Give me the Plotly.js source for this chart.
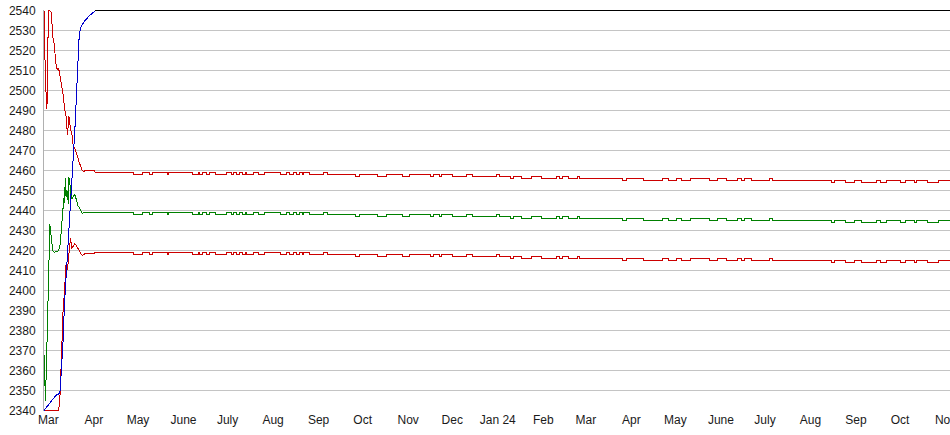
<!DOCTYPE html>
<html>
<head>
<meta charset="utf-8">
<script src="https://cdn.plot.ly/plotly-3.0.1.min.js"></script>
<style>
html,body{margin:0;padding:0;background:#fff;}
#chart{width:950px;height:435px;}
#chart .scatterlayer path.js-line{shape-rendering:crispEdges;}
</style>
</head>
<body>
<div id="chart"></div>
<script>
// ---- tick labels ----
const tickDates = ["2023-03-01","2023-04-01","2023-05-01","2023-06-01","2023-07-01","2023-08-01","2023-09-01","2023-10-01","2023-11-01","2023-12-01","2024-01-01","2024-02-01","2024-03-01","2024-04-01","2024-05-01","2024-06-01","2024-07-01","2024-08-01","2024-09-01","2024-10-01","2024-11-01"];
const tickLabels = ["Mar","Apr","May","June","July","Aug","Sep","Oct","Nov","Dec","Jan 24","Feb","Mar","Apr","May","June","July","Aug","Sep","Oct","Nov"];

// ---- early (settling) period, daily ----
const earlyDates = ["2023-02-26","2023-02-27","2023-02-28","2023-03-01","2023-03-02","2023-03-03","2023-03-04","2023-03-05","2023-03-06","2023-03-07","2023-03-08","2023-03-09","2023-03-10","2023-03-11","2023-03-12","2023-03-13","2023-03-14","2023-03-15","2023-03-16","2023-03-17","2023-03-18","2023-03-19","2023-03-20","2023-03-21","2023-03-22","2023-03-23","2023-03-24","2023-03-25","2023-03-26","2023-03-27","2023-03-28","2023-03-29","2023-03-30","2023-03-31","2023-04-01"];
const upperEarly = [2540,2504,2491,2540,2540,2539,2527,2523,2514,2510.5,2511,2507,2501,2498,2491,2487,2478,2487,2481,2478,2472,2471,2469,2466,2464,2462,2460,2459.5,2460,2460,2460,2460,2460,2460,2460];
const blueEarly = [2340,2341,2342,2343,2344,2345,2346,2347,2347.5,2348,2348,2350,2361,2375,2394,2406,2418,2433,2440,2455,2469,2480,2496,2514,2528,2531.5,2533,2534,2535,2536,2537,2537.5,2538,2538.7,2539.5];
const lowerEarly = [2340,2340,2340,2340,2340,2340,2340,2340,2340,2340,2340,2348.5,2371,2390,2400,2413,2410.5,2418,2426,2421,2422,2423.5,2422.5,2421.5,2420,2418.5,2417.5,2418,2418.5,2418.5,2418.5,2418.5,2418.5,2418.5,2418.5];

const greenEarlyDates = ["2023-02-26","2023-02-27","2023-02-28","2023-03-01","2023-03-02","2023-03-03","2023-03-04","2023-03-05","2023-03-06","2023-03-07","2023-03-08","2023-03-09","2023-03-10","2023-03-10 12:00","2023-03-11","2023-03-11 12:00","2023-03-12","2023-03-12 12:00","2023-03-13","2023-03-13 12:00","2023-03-14","2023-03-14 12:00","2023-03-15","2023-03-15 12:00","2023-03-16","2023-03-16 12:00","2023-03-17","2023-03-18","2023-03-19","2023-03-20","2023-03-21","2023-03-22","2023-03-23","2023-03-24","2023-03-25"];
const greenEarly = [2368,2345,2373,2413,2433,2426,2420,2419,2419.5,2419.5,2420,2423,2432,2439,2444,2446,2444,2456,2447,2450,2449,2443.5,2456.5,2455,2450,2446.5,2446,2447,2448,2445.5,2442.5,2441.5,2440,2438.5,2439];

// ---- steady period, change points ----
const steadyDates = ["2023-04-02","2023-04-28","2023-05-04","2023-05-09","2023-05-11","2023-05-21","2023-05-22","2023-06-07","2023-06-11","2023-06-12",
"2023-06-14","2023-06-17","2023-06-19","2023-06-23","2023-06-30","2023-07-04","2023-07-05","2023-07-07","2023-07-09","2023-07-11",
"2023-07-13","2023-07-14","2023-07-19","2023-07-22","2023-07-26","2023-08-06","2023-08-10","2023-08-12","2023-08-15","2023-08-17",
"2023-08-19","2023-08-21","2023-08-22","2023-08-26","2023-09-04","2023-09-07","2023-09-26","2023-09-29","2023-10-11","2023-10-17",
"2023-10-28","2023-11-02","2023-11-16","2023-11-18","2023-11-22","2023-11-24","2023-12-01","2023-12-11","2023-12-15","2023-12-31",
"2024-01-02","2024-01-10","2024-01-12","2024-01-17","2024-01-24","2024-01-31","2024-02-10","2024-02-12","2024-02-14","2024-02-18",
"2024-02-24","2024-02-26","2024-03-26","2024-03-29","2024-04-09","2024-04-22","2024-04-26","2024-05-02","2024-05-05","2024-05-11",
"2024-05-24","2024-05-30","2024-06-05","2024-06-12","2024-06-15","2024-06-17","2024-06-22","2024-07-04","2024-07-06","2024-08-15",
"2024-08-17","2024-08-25","2024-08-31","2024-09-05","2024-09-15","2024-09-18","2024-09-22","2024-10-01","2024-10-05","2024-10-11",
"2024-10-12","2024-10-20","2024-10-27","2024-11-04"];
const greenSteady = [2439,2438,2439,2438,2439,2438,2439,2438,2439,2438,
2439,2438,2439,2438,2439,2438,2439,2438,2439,2438,
2439,2438,2439,2438,2439,2438,2439,2438,2439,2438,
2439,2438,2439,2438,2439,2438,2437,2438,2437,2438,
2437,2438,2437,2438,2437,2438,2437,2438,2437,2438,
2437,2436,2437,2436,2437,2436,2437,2436,2437,2436,
2437,2436,2435,2436,2435,2436,2435,2436,2435,2436,
2435,2436,2435,2436,2435,2436,2435,2436,2435,2434,
2435,2434,2435,2434,2435,2434,2435,2434,2435,2434,
2435,2434,2435,2435];
const upperSteady = [2459,2458,2459,2458,2459,2458,2459,2458,2459,2458,
2459,2458,2459,2458,2459,2458,2459,2458,2459,2458,
2459,2458,2459,2458,2459,2458,2459,2458,2459,2458,
2459,2458,2459,2458,2459,2458,2457,2458,2457,2458,
2457,2458,2457,2458,2457,2458,2457,2458,2457,2458,
2457,2456,2457,2456,2457,2456,2457,2456,2457,2456,
2457,2456,2455,2456,2455,2456,2455,2456,2455,2456,
2455,2456,2455,2456,2455,2456,2455,2456,2455,2454,
2455,2454,2455,2454,2455,2454,2455,2454,2455,2454,
2455,2454,2455,2455];
const lowerSteady = [2419,2418,2419,2418,2419,2418,2419,2418,2419,2418,
2419,2418,2419,2418,2419,2418,2419,2418,2419,2418,
2419,2418,2419,2418,2419,2418,2419,2418,2419,2418,
2419,2418,2419,2418,2419,2418,2417,2418,2417,2418,
2417,2418,2417,2418,2417,2418,2417,2418,2417,2418,
2417,2416,2417,2416,2417,2416,2417,2416,2417,2416,
2417,2416,2415,2416,2415,2416,2415,2416,2415,2416,
2415,2416,2415,2416,2415,2416,2415,2416,2415,2414,
2415,2414,2415,2414,2415,2414,2415,2414,2415,2414,
2415,2414,2415,2415];
const topDates = ["2023-04-02","2024-11-04"];
const topValues = [2540,2540];

function line(x, y, color, shape) {
  return {x: x, y: y, type: "scatter", mode: "lines", line: {color: color, width: 1, shape: shape}, hoverinfo: "skip"};
}
const s0 = steadyDates.slice(0, 1);

const traces = [
  line(greenEarlyDates.concat(s0), greenEarly.concat(greenSteady.slice(0,1)), "#008000", "linear"),
  line(earlyDates.concat(s0), lowerEarly.concat(lowerSteady.slice(0,1)), "#cc0000", "linear"),
  line(earlyDates.concat(s0), upperEarly.concat(upperSteady.slice(0,1)), "#cc0000", "linear"),
  line(steadyDates, greenSteady, "#008000", "hv"),
  line(steadyDates, lowerSteady, "#cc0000", "hv"),
  line(steadyDates, upperSteady, "#cc0000", "hv"),
  line(topDates, topValues, "#000000", "hv"),
  line(earlyDates.concat(topDates.slice(0,1)), blueEarly.concat(topValues.slice(0,1)), "#0000cc", "linear")
];

const axisFont = {family: "Liberation Sans, Arial, sans-serif", size: 12, color: "#1a1a1a"};
const layout = {
  width: 950, height: 435,
  margin: {l: 44, r: 0, t: 10, b: 24, pad: 0},
  paper_bgcolor: "#fff", plot_bgcolor: "#fff",
  showlegend: false, hovermode: false,
  xaxis: {
    type: "date", range: ["2023-02-26", "2024-11-04"],
    tickmode: "array", tickvals: tickDates, ticktext: tickLabels,
    showgrid: false, zeroline: false, showline: false, ticks: "",
    tickfont: axisFont, ticklabeloverflow: "allow", fixedrange: true
  },
  yaxis: {
    range: [2339.75, 2540.25], dtick: 10, tick0: 2340,
    showgrid: true, gridcolor: "#c4c4c4", gridwidth: 1,
    zeroline: false, showline: true, linecolor: "#b0b0b0", linewidth: 1,
    ticks: "", ticklabelstandoff: 5, tickfont: axisFont, fixedrange: true
  }
};
Plotly.newPlot("chart", traces, layout, {staticPlot: true, displayModeBar: false});
</script>
</body>
</html>
